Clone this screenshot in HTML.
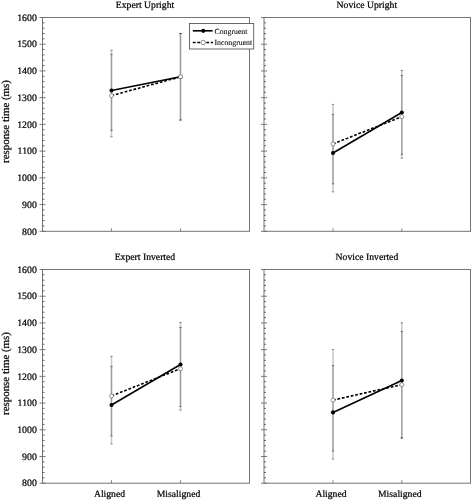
<!DOCTYPE html>
<html><head><meta charset="utf-8"><style>
html,body{margin:0;padding:0;background:#fff;}
svg{display:block;filter:grayscale(1);}
text{font-family:"Liberation Serif", serif;fill:#000;stroke:#000;stroke-width:0.22px;text-rendering:geometricPrecision;}
.tl{font-size:9.8px;}
.tt{font-size:9.7px;}
.yl{font-size:10.9px;}
.lg{font-size:7.8px;stroke-width:0.08px;}
</style></head><body>
<svg width="472" height="500" viewBox="0 0 472 500">
<rect width="472" height="500" fill="#fff"/>
<rect x="42.5" y="17.5" width="207" height="213.8" fill="none" stroke="#747474" stroke-width="1.0"/>
<line x1="39.5" y1="17.5" x2="45.5" y2="17.5" stroke="#6a6a6a" stroke-width="0.9"/>
<line x1="42.5" y1="22.84" x2="44.5" y2="22.84" stroke="#555" stroke-width="0.9"/>
<line x1="42.5" y1="28.19" x2="44.5" y2="28.19" stroke="#555" stroke-width="0.9"/>
<line x1="42.5" y1="33.54" x2="44.5" y2="33.54" stroke="#555" stroke-width="0.9"/>
<line x1="42.5" y1="38.88" x2="44.5" y2="38.88" stroke="#555" stroke-width="0.9"/>
<line x1="39.5" y1="44.23" x2="45.5" y2="44.23" stroke="#6a6a6a" stroke-width="0.9"/>
<line x1="42.5" y1="49.57" x2="44.5" y2="49.57" stroke="#555" stroke-width="0.9"/>
<line x1="42.5" y1="54.92" x2="44.5" y2="54.92" stroke="#555" stroke-width="0.9"/>
<line x1="42.5" y1="60.26" x2="44.5" y2="60.26" stroke="#555" stroke-width="0.9"/>
<line x1="42.5" y1="65.61" x2="44.5" y2="65.61" stroke="#555" stroke-width="0.9"/>
<line x1="39.5" y1="70.95" x2="45.5" y2="70.95" stroke="#6a6a6a" stroke-width="0.9"/>
<line x1="42.5" y1="76.3" x2="44.5" y2="76.3" stroke="#555" stroke-width="0.9"/>
<line x1="42.5" y1="81.64" x2="44.5" y2="81.64" stroke="#555" stroke-width="0.9"/>
<line x1="42.5" y1="86.99" x2="44.5" y2="86.99" stroke="#555" stroke-width="0.9"/>
<line x1="42.5" y1="92.33" x2="44.5" y2="92.33" stroke="#555" stroke-width="0.9"/>
<line x1="39.5" y1="97.68" x2="45.5" y2="97.68" stroke="#6a6a6a" stroke-width="0.9"/>
<line x1="42.5" y1="103.02" x2="44.5" y2="103.02" stroke="#555" stroke-width="0.9"/>
<line x1="42.5" y1="108.37" x2="44.5" y2="108.37" stroke="#555" stroke-width="0.9"/>
<line x1="42.5" y1="113.71" x2="44.5" y2="113.71" stroke="#555" stroke-width="0.9"/>
<line x1="42.5" y1="119.06" x2="44.5" y2="119.06" stroke="#555" stroke-width="0.9"/>
<line x1="39.5" y1="124.4" x2="45.5" y2="124.4" stroke="#6a6a6a" stroke-width="0.9"/>
<line x1="42.5" y1="129.75" x2="44.5" y2="129.75" stroke="#555" stroke-width="0.9"/>
<line x1="42.5" y1="135.09" x2="44.5" y2="135.09" stroke="#555" stroke-width="0.9"/>
<line x1="42.5" y1="140.44" x2="44.5" y2="140.44" stroke="#555" stroke-width="0.9"/>
<line x1="42.5" y1="145.78" x2="44.5" y2="145.78" stroke="#555" stroke-width="0.9"/>
<line x1="39.5" y1="151.13" x2="45.5" y2="151.13" stroke="#6a6a6a" stroke-width="0.9"/>
<line x1="42.5" y1="156.47" x2="44.5" y2="156.47" stroke="#555" stroke-width="0.9"/>
<line x1="42.5" y1="161.82" x2="44.5" y2="161.82" stroke="#555" stroke-width="0.9"/>
<line x1="42.5" y1="167.16" x2="44.5" y2="167.16" stroke="#555" stroke-width="0.9"/>
<line x1="42.5" y1="172.51" x2="44.5" y2="172.51" stroke="#555" stroke-width="0.9"/>
<line x1="39.5" y1="177.85" x2="45.5" y2="177.85" stroke="#6a6a6a" stroke-width="0.9"/>
<line x1="42.5" y1="183.2" x2="44.5" y2="183.2" stroke="#555" stroke-width="0.9"/>
<line x1="42.5" y1="188.54" x2="44.5" y2="188.54" stroke="#555" stroke-width="0.9"/>
<line x1="42.5" y1="193.89" x2="44.5" y2="193.89" stroke="#555" stroke-width="0.9"/>
<line x1="42.5" y1="199.23" x2="44.5" y2="199.23" stroke="#555" stroke-width="0.9"/>
<line x1="39.5" y1="204.58" x2="45.5" y2="204.58" stroke="#6a6a6a" stroke-width="0.9"/>
<line x1="42.5" y1="209.92" x2="44.5" y2="209.92" stroke="#555" stroke-width="0.9"/>
<line x1="42.5" y1="215.27" x2="44.5" y2="215.27" stroke="#555" stroke-width="0.9"/>
<line x1="42.5" y1="220.61" x2="44.5" y2="220.61" stroke="#555" stroke-width="0.9"/>
<line x1="42.5" y1="225.96" x2="44.5" y2="225.96" stroke="#555" stroke-width="0.9"/>
<line x1="39.5" y1="231.3" x2="45.5" y2="231.3" stroke="#6a6a6a" stroke-width="0.9"/>
<line x1="111.5" y1="231.3" x2="111.5" y2="228.3" stroke="#6a6a6a" stroke-width="0.8"/>
<line x1="180.5" y1="231.3" x2="180.5" y2="228.3" stroke="#6a6a6a" stroke-width="0.8"/>
<text x="17.2" y="20.75" class="tl">1600</text>
<text x="17.2" y="47.48" class="tl">1500</text>
<text x="17.2" y="74.2" class="tl">1400</text>
<text x="17.2" y="100.93" class="tl">1300</text>
<text x="17.2" y="127.65" class="tl">1200</text>
<text x="17.6" y="154.38" class="tl">1100</text>
<text x="17.2" y="181.1" class="tl">1000</text>
<text x="22.1" y="207.83" class="tl">900</text>
<text x="22.1" y="234.55" class="tl">800</text>
<text transform="translate(8.7 162.92) rotate(-90)" class="yl">response time (ms)</text>
<text x="115.8" y="7.8" class="tt">Expert Upright</text>
<line x1="111.5" y1="50.1" x2="111.5" y2="130.4" stroke="#000" stroke-opacity="0.22" stroke-width="1.5"/>
<line x1="110.3" y1="50.1" x2="112.7" y2="50.1" stroke="#000" stroke-opacity="0.42" stroke-width="1"/>
<line x1="110.3" y1="130.4" x2="112.7" y2="130.4" stroke="#000" stroke-opacity="0.42" stroke-width="1"/>
<line x1="111.5" y1="54.4" x2="111.5" y2="136.8" stroke="#000" stroke-opacity="0.22" stroke-width="1.5"/>
<line x1="110.3" y1="54.4" x2="112.7" y2="54.4" stroke="#000" stroke-opacity="0.42" stroke-width="1"/>
<line x1="110.3" y1="136.8" x2="112.7" y2="136.8" stroke="#000" stroke-opacity="0.42" stroke-width="1"/>
<line x1="180.5" y1="33.5" x2="180.5" y2="120.1" stroke="#000" stroke-opacity="0.22" stroke-width="1.5"/>
<line x1="179.3" y1="33.5" x2="181.7" y2="33.5" stroke="#000" stroke-opacity="0.42" stroke-width="1"/>
<line x1="179.3" y1="120.1" x2="181.7" y2="120.1" stroke="#000" stroke-opacity="0.42" stroke-width="1"/>
<line x1="180.5" y1="33.5" x2="180.5" y2="120.1" stroke="#000" stroke-opacity="0.22" stroke-width="1.5"/>
<line x1="179.3" y1="33.5" x2="181.7" y2="33.5" stroke="#000" stroke-opacity="0.42" stroke-width="1"/>
<line x1="179.3" y1="120.1" x2="181.7" y2="120.1" stroke="#000" stroke-opacity="0.42" stroke-width="1"/>
<line x1="111.5" y1="90.5" x2="180.5" y2="76.8" stroke="#000" stroke-width="1.6"/>
<line x1="111.5" y1="95.6" x2="180.5" y2="76.8" stroke="#000" stroke-width="1.6" stroke-dasharray="2.75 1.8"/>
<circle cx="111.5" cy="90.5" r="2.05" fill="#000"/>
<circle cx="111.5" cy="95.6" r="2.0" fill="#fff" stroke="#606060" stroke-width="0.65"/>
<circle cx="180.5" cy="76.8" r="2.05" fill="#000"/>
<circle cx="180.5" cy="76.8" r="2.0" fill="#fff" stroke="#606060" stroke-width="0.65"/>
<rect x="264" y="17.5" width="206.5" height="213.8" fill="none" stroke="#747474" stroke-width="1.0"/>
<line x1="261" y1="17.5" x2="267" y2="17.5" stroke="#6a6a6a" stroke-width="0.9"/>
<line x1="264" y1="22.84" x2="266" y2="22.84" stroke="#555" stroke-width="0.9"/>
<line x1="264" y1="28.19" x2="266" y2="28.19" stroke="#555" stroke-width="0.9"/>
<line x1="264" y1="33.54" x2="266" y2="33.54" stroke="#555" stroke-width="0.9"/>
<line x1="264" y1="38.88" x2="266" y2="38.88" stroke="#555" stroke-width="0.9"/>
<line x1="261" y1="44.23" x2="267" y2="44.23" stroke="#6a6a6a" stroke-width="0.9"/>
<line x1="264" y1="49.57" x2="266" y2="49.57" stroke="#555" stroke-width="0.9"/>
<line x1="264" y1="54.92" x2="266" y2="54.92" stroke="#555" stroke-width="0.9"/>
<line x1="264" y1="60.26" x2="266" y2="60.26" stroke="#555" stroke-width="0.9"/>
<line x1="264" y1="65.61" x2="266" y2="65.61" stroke="#555" stroke-width="0.9"/>
<line x1="261" y1="70.95" x2="267" y2="70.95" stroke="#6a6a6a" stroke-width="0.9"/>
<line x1="264" y1="76.3" x2="266" y2="76.3" stroke="#555" stroke-width="0.9"/>
<line x1="264" y1="81.64" x2="266" y2="81.64" stroke="#555" stroke-width="0.9"/>
<line x1="264" y1="86.99" x2="266" y2="86.99" stroke="#555" stroke-width="0.9"/>
<line x1="264" y1="92.33" x2="266" y2="92.33" stroke="#555" stroke-width="0.9"/>
<line x1="261" y1="97.68" x2="267" y2="97.68" stroke="#6a6a6a" stroke-width="0.9"/>
<line x1="264" y1="103.02" x2="266" y2="103.02" stroke="#555" stroke-width="0.9"/>
<line x1="264" y1="108.37" x2="266" y2="108.37" stroke="#555" stroke-width="0.9"/>
<line x1="264" y1="113.71" x2="266" y2="113.71" stroke="#555" stroke-width="0.9"/>
<line x1="264" y1="119.06" x2="266" y2="119.06" stroke="#555" stroke-width="0.9"/>
<line x1="261" y1="124.4" x2="267" y2="124.4" stroke="#6a6a6a" stroke-width="0.9"/>
<line x1="264" y1="129.75" x2="266" y2="129.75" stroke="#555" stroke-width="0.9"/>
<line x1="264" y1="135.09" x2="266" y2="135.09" stroke="#555" stroke-width="0.9"/>
<line x1="264" y1="140.44" x2="266" y2="140.44" stroke="#555" stroke-width="0.9"/>
<line x1="264" y1="145.78" x2="266" y2="145.78" stroke="#555" stroke-width="0.9"/>
<line x1="261" y1="151.13" x2="267" y2="151.13" stroke="#6a6a6a" stroke-width="0.9"/>
<line x1="264" y1="156.47" x2="266" y2="156.47" stroke="#555" stroke-width="0.9"/>
<line x1="264" y1="161.82" x2="266" y2="161.82" stroke="#555" stroke-width="0.9"/>
<line x1="264" y1="167.16" x2="266" y2="167.16" stroke="#555" stroke-width="0.9"/>
<line x1="264" y1="172.51" x2="266" y2="172.51" stroke="#555" stroke-width="0.9"/>
<line x1="261" y1="177.85" x2="267" y2="177.85" stroke="#6a6a6a" stroke-width="0.9"/>
<line x1="264" y1="183.2" x2="266" y2="183.2" stroke="#555" stroke-width="0.9"/>
<line x1="264" y1="188.54" x2="266" y2="188.54" stroke="#555" stroke-width="0.9"/>
<line x1="264" y1="193.89" x2="266" y2="193.89" stroke="#555" stroke-width="0.9"/>
<line x1="264" y1="199.23" x2="266" y2="199.23" stroke="#555" stroke-width="0.9"/>
<line x1="261" y1="204.58" x2="267" y2="204.58" stroke="#6a6a6a" stroke-width="0.9"/>
<line x1="264" y1="209.92" x2="266" y2="209.92" stroke="#555" stroke-width="0.9"/>
<line x1="264" y1="215.27" x2="266" y2="215.27" stroke="#555" stroke-width="0.9"/>
<line x1="264" y1="220.61" x2="266" y2="220.61" stroke="#555" stroke-width="0.9"/>
<line x1="264" y1="225.96" x2="266" y2="225.96" stroke="#555" stroke-width="0.9"/>
<line x1="261" y1="231.3" x2="267" y2="231.3" stroke="#6a6a6a" stroke-width="0.9"/>
<line x1="333" y1="231.3" x2="333" y2="228.3" stroke="#6a6a6a" stroke-width="0.8"/>
<line x1="401.8" y1="231.3" x2="401.8" y2="228.3" stroke="#6a6a6a" stroke-width="0.8"/>
<text x="336.6" y="7.8" class="tt">Novice Upright</text>
<line x1="333" y1="114.4" x2="333" y2="191.9" stroke="#000" stroke-opacity="0.22" stroke-width="1.5"/>
<line x1="331.8" y1="114.4" x2="334.2" y2="114.4" stroke="#000" stroke-opacity="0.42" stroke-width="1"/>
<line x1="331.8" y1="191.9" x2="334.2" y2="191.9" stroke="#000" stroke-opacity="0.42" stroke-width="1"/>
<line x1="333" y1="104.4" x2="333" y2="183.9" stroke="#000" stroke-opacity="0.22" stroke-width="1.5"/>
<line x1="331.8" y1="104.4" x2="334.2" y2="104.4" stroke="#000" stroke-opacity="0.42" stroke-width="1"/>
<line x1="331.8" y1="183.9" x2="334.2" y2="183.9" stroke="#000" stroke-opacity="0.42" stroke-width="1"/>
<line x1="401.8" y1="70.5" x2="401.8" y2="154.6" stroke="#000" stroke-opacity="0.22" stroke-width="1.5"/>
<line x1="400.6" y1="70.5" x2="403" y2="70.5" stroke="#000" stroke-opacity="0.42" stroke-width="1"/>
<line x1="400.6" y1="154.6" x2="403" y2="154.6" stroke="#000" stroke-opacity="0.42" stroke-width="1"/>
<line x1="401.8" y1="75.5" x2="401.8" y2="158.2" stroke="#000" stroke-opacity="0.22" stroke-width="1.5"/>
<line x1="400.6" y1="75.5" x2="403" y2="75.5" stroke="#000" stroke-opacity="0.42" stroke-width="1"/>
<line x1="400.6" y1="158.2" x2="403" y2="158.2" stroke="#000" stroke-opacity="0.42" stroke-width="1"/>
<line x1="333" y1="153" x2="401.8" y2="112.5" stroke="#000" stroke-width="1.6"/>
<line x1="333" y1="143.9" x2="401.8" y2="116.7" stroke="#000" stroke-width="1.6" stroke-dasharray="2.75 1.8"/>
<circle cx="333" cy="153" r="2.05" fill="#000"/>
<circle cx="333" cy="143.9" r="2.0" fill="#fff" stroke="#606060" stroke-width="0.65"/>
<circle cx="401.8" cy="112.5" r="2.05" fill="#000"/>
<circle cx="401.8" cy="116.7" r="2.0" fill="#fff" stroke="#606060" stroke-width="0.65"/>
<rect x="42.5" y="269.5" width="207" height="213.7" fill="none" stroke="#747474" stroke-width="1.0"/>
<line x1="39.5" y1="269.5" x2="45.5" y2="269.5" stroke="#6a6a6a" stroke-width="0.9"/>
<line x1="42.5" y1="274.84" x2="44.5" y2="274.84" stroke="#555" stroke-width="0.9"/>
<line x1="42.5" y1="280.19" x2="44.5" y2="280.19" stroke="#555" stroke-width="0.9"/>
<line x1="42.5" y1="285.53" x2="44.5" y2="285.53" stroke="#555" stroke-width="0.9"/>
<line x1="42.5" y1="290.87" x2="44.5" y2="290.87" stroke="#555" stroke-width="0.9"/>
<line x1="39.5" y1="296.21" x2="45.5" y2="296.21" stroke="#6a6a6a" stroke-width="0.9"/>
<line x1="42.5" y1="301.56" x2="44.5" y2="301.56" stroke="#555" stroke-width="0.9"/>
<line x1="42.5" y1="306.9" x2="44.5" y2="306.9" stroke="#555" stroke-width="0.9"/>
<line x1="42.5" y1="312.24" x2="44.5" y2="312.24" stroke="#555" stroke-width="0.9"/>
<line x1="42.5" y1="317.58" x2="44.5" y2="317.58" stroke="#555" stroke-width="0.9"/>
<line x1="39.5" y1="322.93" x2="45.5" y2="322.93" stroke="#6a6a6a" stroke-width="0.9"/>
<line x1="42.5" y1="328.27" x2="44.5" y2="328.27" stroke="#555" stroke-width="0.9"/>
<line x1="42.5" y1="333.61" x2="44.5" y2="333.61" stroke="#555" stroke-width="0.9"/>
<line x1="42.5" y1="338.95" x2="44.5" y2="338.95" stroke="#555" stroke-width="0.9"/>
<line x1="42.5" y1="344.29" x2="44.5" y2="344.29" stroke="#555" stroke-width="0.9"/>
<line x1="39.5" y1="349.64" x2="45.5" y2="349.64" stroke="#6a6a6a" stroke-width="0.9"/>
<line x1="42.5" y1="354.98" x2="44.5" y2="354.98" stroke="#555" stroke-width="0.9"/>
<line x1="42.5" y1="360.32" x2="44.5" y2="360.32" stroke="#555" stroke-width="0.9"/>
<line x1="42.5" y1="365.66" x2="44.5" y2="365.66" stroke="#555" stroke-width="0.9"/>
<line x1="42.5" y1="371.01" x2="44.5" y2="371.01" stroke="#555" stroke-width="0.9"/>
<line x1="39.5" y1="376.35" x2="45.5" y2="376.35" stroke="#6a6a6a" stroke-width="0.9"/>
<line x1="42.5" y1="381.69" x2="44.5" y2="381.69" stroke="#555" stroke-width="0.9"/>
<line x1="42.5" y1="387.03" x2="44.5" y2="387.03" stroke="#555" stroke-width="0.9"/>
<line x1="42.5" y1="392.38" x2="44.5" y2="392.38" stroke="#555" stroke-width="0.9"/>
<line x1="42.5" y1="397.72" x2="44.5" y2="397.72" stroke="#555" stroke-width="0.9"/>
<line x1="39.5" y1="403.06" x2="45.5" y2="403.06" stroke="#6a6a6a" stroke-width="0.9"/>
<line x1="42.5" y1="408.4" x2="44.5" y2="408.4" stroke="#555" stroke-width="0.9"/>
<line x1="42.5" y1="413.75" x2="44.5" y2="413.75" stroke="#555" stroke-width="0.9"/>
<line x1="42.5" y1="419.09" x2="44.5" y2="419.09" stroke="#555" stroke-width="0.9"/>
<line x1="42.5" y1="424.43" x2="44.5" y2="424.43" stroke="#555" stroke-width="0.9"/>
<line x1="39.5" y1="429.77" x2="45.5" y2="429.77" stroke="#6a6a6a" stroke-width="0.9"/>
<line x1="42.5" y1="435.12" x2="44.5" y2="435.12" stroke="#555" stroke-width="0.9"/>
<line x1="42.5" y1="440.46" x2="44.5" y2="440.46" stroke="#555" stroke-width="0.9"/>
<line x1="42.5" y1="445.8" x2="44.5" y2="445.8" stroke="#555" stroke-width="0.9"/>
<line x1="42.5" y1="451.14" x2="44.5" y2="451.14" stroke="#555" stroke-width="0.9"/>
<line x1="39.5" y1="456.49" x2="45.5" y2="456.49" stroke="#6a6a6a" stroke-width="0.9"/>
<line x1="42.5" y1="461.83" x2="44.5" y2="461.83" stroke="#555" stroke-width="0.9"/>
<line x1="42.5" y1="467.17" x2="44.5" y2="467.17" stroke="#555" stroke-width="0.9"/>
<line x1="42.5" y1="472.51" x2="44.5" y2="472.51" stroke="#555" stroke-width="0.9"/>
<line x1="42.5" y1="477.86" x2="44.5" y2="477.86" stroke="#555" stroke-width="0.9"/>
<line x1="39.5" y1="483.2" x2="45.5" y2="483.2" stroke="#6a6a6a" stroke-width="0.9"/>
<line x1="111.5" y1="483.2" x2="111.5" y2="480.2" stroke="#6a6a6a" stroke-width="0.8"/>
<line x1="180.5" y1="483.2" x2="180.5" y2="480.2" stroke="#6a6a6a" stroke-width="0.8"/>
<text x="17.2" y="272.75" class="tl">1600</text>
<text x="17.2" y="299.46" class="tl">1500</text>
<text x="17.2" y="326.18" class="tl">1400</text>
<text x="17.2" y="352.89" class="tl">1300</text>
<text x="17.2" y="379.6" class="tl">1200</text>
<text x="17.6" y="406.31" class="tl">1100</text>
<text x="17.2" y="433.02" class="tl">1000</text>
<text x="22.1" y="459.74" class="tl">900</text>
<text x="22.1" y="486.45" class="tl">800</text>
<text transform="translate(8.7 414.92) rotate(-90)" class="yl">response time (ms)</text>
<text x="93.9" y="496.8" class="tt">Aligned</text>
<text x="156.7" y="496.8" class="tt">Misaligned</text>
<text x="114.7" y="259.9" class="tt">Expert Inverted</text>
<line x1="111.5" y1="366.4" x2="111.5" y2="443.9" stroke="#000" stroke-opacity="0.22" stroke-width="1.5"/>
<line x1="110.3" y1="366.4" x2="112.7" y2="366.4" stroke="#000" stroke-opacity="0.42" stroke-width="1"/>
<line x1="110.3" y1="443.9" x2="112.7" y2="443.9" stroke="#000" stroke-opacity="0.42" stroke-width="1"/>
<line x1="111.5" y1="356.4" x2="111.5" y2="435.9" stroke="#000" stroke-opacity="0.22" stroke-width="1.5"/>
<line x1="110.3" y1="356.4" x2="112.7" y2="356.4" stroke="#000" stroke-opacity="0.42" stroke-width="1"/>
<line x1="110.3" y1="435.9" x2="112.7" y2="435.9" stroke="#000" stroke-opacity="0.42" stroke-width="1"/>
<line x1="180.5" y1="322.5" x2="180.5" y2="406.6" stroke="#000" stroke-opacity="0.22" stroke-width="1.5"/>
<line x1="179.3" y1="322.5" x2="181.7" y2="322.5" stroke="#000" stroke-opacity="0.42" stroke-width="1"/>
<line x1="179.3" y1="406.6" x2="181.7" y2="406.6" stroke="#000" stroke-opacity="0.42" stroke-width="1"/>
<line x1="180.5" y1="327.5" x2="180.5" y2="410.2" stroke="#000" stroke-opacity="0.22" stroke-width="1.5"/>
<line x1="179.3" y1="327.5" x2="181.7" y2="327.5" stroke="#000" stroke-opacity="0.42" stroke-width="1"/>
<line x1="179.3" y1="410.2" x2="181.7" y2="410.2" stroke="#000" stroke-opacity="0.42" stroke-width="1"/>
<line x1="111.5" y1="405" x2="180.5" y2="364.5" stroke="#000" stroke-width="1.6"/>
<line x1="111.5" y1="395.9" x2="180.5" y2="368.7" stroke="#000" stroke-width="1.6" stroke-dasharray="2.75 1.8"/>
<circle cx="111.5" cy="405" r="2.05" fill="#000"/>
<circle cx="111.5" cy="395.9" r="2.0" fill="#fff" stroke="#606060" stroke-width="0.65"/>
<circle cx="180.5" cy="364.5" r="2.05" fill="#000"/>
<circle cx="180.5" cy="368.7" r="2.0" fill="#fff" stroke="#606060" stroke-width="0.65"/>
<rect x="264" y="269.5" width="206.5" height="213.7" fill="none" stroke="#747474" stroke-width="1.0"/>
<line x1="261" y1="269.5" x2="267" y2="269.5" stroke="#6a6a6a" stroke-width="0.9"/>
<line x1="264" y1="274.84" x2="266" y2="274.84" stroke="#555" stroke-width="0.9"/>
<line x1="264" y1="280.19" x2="266" y2="280.19" stroke="#555" stroke-width="0.9"/>
<line x1="264" y1="285.53" x2="266" y2="285.53" stroke="#555" stroke-width="0.9"/>
<line x1="264" y1="290.87" x2="266" y2="290.87" stroke="#555" stroke-width="0.9"/>
<line x1="261" y1="296.21" x2="267" y2="296.21" stroke="#6a6a6a" stroke-width="0.9"/>
<line x1="264" y1="301.56" x2="266" y2="301.56" stroke="#555" stroke-width="0.9"/>
<line x1="264" y1="306.9" x2="266" y2="306.9" stroke="#555" stroke-width="0.9"/>
<line x1="264" y1="312.24" x2="266" y2="312.24" stroke="#555" stroke-width="0.9"/>
<line x1="264" y1="317.58" x2="266" y2="317.58" stroke="#555" stroke-width="0.9"/>
<line x1="261" y1="322.93" x2="267" y2="322.93" stroke="#6a6a6a" stroke-width="0.9"/>
<line x1="264" y1="328.27" x2="266" y2="328.27" stroke="#555" stroke-width="0.9"/>
<line x1="264" y1="333.61" x2="266" y2="333.61" stroke="#555" stroke-width="0.9"/>
<line x1="264" y1="338.95" x2="266" y2="338.95" stroke="#555" stroke-width="0.9"/>
<line x1="264" y1="344.29" x2="266" y2="344.29" stroke="#555" stroke-width="0.9"/>
<line x1="261" y1="349.64" x2="267" y2="349.64" stroke="#6a6a6a" stroke-width="0.9"/>
<line x1="264" y1="354.98" x2="266" y2="354.98" stroke="#555" stroke-width="0.9"/>
<line x1="264" y1="360.32" x2="266" y2="360.32" stroke="#555" stroke-width="0.9"/>
<line x1="264" y1="365.66" x2="266" y2="365.66" stroke="#555" stroke-width="0.9"/>
<line x1="264" y1="371.01" x2="266" y2="371.01" stroke="#555" stroke-width="0.9"/>
<line x1="261" y1="376.35" x2="267" y2="376.35" stroke="#6a6a6a" stroke-width="0.9"/>
<line x1="264" y1="381.69" x2="266" y2="381.69" stroke="#555" stroke-width="0.9"/>
<line x1="264" y1="387.03" x2="266" y2="387.03" stroke="#555" stroke-width="0.9"/>
<line x1="264" y1="392.38" x2="266" y2="392.38" stroke="#555" stroke-width="0.9"/>
<line x1="264" y1="397.72" x2="266" y2="397.72" stroke="#555" stroke-width="0.9"/>
<line x1="261" y1="403.06" x2="267" y2="403.06" stroke="#6a6a6a" stroke-width="0.9"/>
<line x1="264" y1="408.4" x2="266" y2="408.4" stroke="#555" stroke-width="0.9"/>
<line x1="264" y1="413.75" x2="266" y2="413.75" stroke="#555" stroke-width="0.9"/>
<line x1="264" y1="419.09" x2="266" y2="419.09" stroke="#555" stroke-width="0.9"/>
<line x1="264" y1="424.43" x2="266" y2="424.43" stroke="#555" stroke-width="0.9"/>
<line x1="261" y1="429.77" x2="267" y2="429.77" stroke="#6a6a6a" stroke-width="0.9"/>
<line x1="264" y1="435.12" x2="266" y2="435.12" stroke="#555" stroke-width="0.9"/>
<line x1="264" y1="440.46" x2="266" y2="440.46" stroke="#555" stroke-width="0.9"/>
<line x1="264" y1="445.8" x2="266" y2="445.8" stroke="#555" stroke-width="0.9"/>
<line x1="264" y1="451.14" x2="266" y2="451.14" stroke="#555" stroke-width="0.9"/>
<line x1="261" y1="456.49" x2="267" y2="456.49" stroke="#6a6a6a" stroke-width="0.9"/>
<line x1="264" y1="461.83" x2="266" y2="461.83" stroke="#555" stroke-width="0.9"/>
<line x1="264" y1="467.17" x2="266" y2="467.17" stroke="#555" stroke-width="0.9"/>
<line x1="264" y1="472.51" x2="266" y2="472.51" stroke="#555" stroke-width="0.9"/>
<line x1="264" y1="477.86" x2="266" y2="477.86" stroke="#555" stroke-width="0.9"/>
<line x1="261" y1="483.2" x2="267" y2="483.2" stroke="#6a6a6a" stroke-width="0.9"/>
<line x1="333" y1="483.2" x2="333" y2="480.2" stroke="#6a6a6a" stroke-width="0.8"/>
<line x1="401.8" y1="483.2" x2="401.8" y2="480.2" stroke="#6a6a6a" stroke-width="0.8"/>
<text x="315.4" y="496.8" class="tt">Aligned</text>
<text x="378.0" y="496.8" class="tt">Misaligned</text>
<text x="335.6" y="259.9" class="tt">Novice Inverted</text>
<line x1="333" y1="365.6" x2="333" y2="459.1" stroke="#000" stroke-opacity="0.22" stroke-width="1.5"/>
<line x1="331.8" y1="365.6" x2="334.2" y2="365.6" stroke="#000" stroke-opacity="0.42" stroke-width="1"/>
<line x1="331.8" y1="459.1" x2="334.2" y2="459.1" stroke="#000" stroke-opacity="0.42" stroke-width="1"/>
<line x1="333" y1="349.5" x2="333" y2="451" stroke="#000" stroke-opacity="0.22" stroke-width="1.5"/>
<line x1="331.8" y1="349.5" x2="334.2" y2="349.5" stroke="#000" stroke-opacity="0.42" stroke-width="1"/>
<line x1="331.8" y1="451" x2="334.2" y2="451" stroke="#000" stroke-opacity="0.42" stroke-width="1"/>
<line x1="401.8" y1="322.8" x2="401.8" y2="438.2" stroke="#000" stroke-opacity="0.22" stroke-width="1.5"/>
<line x1="400.6" y1="322.8" x2="403" y2="322.8" stroke="#000" stroke-opacity="0.42" stroke-width="1"/>
<line x1="400.6" y1="438.2" x2="403" y2="438.2" stroke="#000" stroke-opacity="0.42" stroke-width="1"/>
<line x1="401.8" y1="331.5" x2="401.8" y2="437.9" stroke="#000" stroke-opacity="0.22" stroke-width="1.5"/>
<line x1="400.6" y1="331.5" x2="403" y2="331.5" stroke="#000" stroke-opacity="0.42" stroke-width="1"/>
<line x1="400.6" y1="437.9" x2="403" y2="437.9" stroke="#000" stroke-opacity="0.42" stroke-width="1"/>
<line x1="333" y1="412.4" x2="401.8" y2="380.5" stroke="#000" stroke-width="1.6"/>
<line x1="333" y1="400.1" x2="401.8" y2="384.7" stroke="#000" stroke-width="1.6" stroke-dasharray="2.75 1.8"/>
<circle cx="333" cy="412.4" r="2.05" fill="#000"/>
<circle cx="333" cy="400.1" r="2.0" fill="#fff" stroke="#606060" stroke-width="0.65"/>
<circle cx="401.8" cy="380.5" r="2.05" fill="#000"/>
<circle cx="401.8" cy="384.7" r="2.0" fill="#fff" stroke="#606060" stroke-width="0.65"/>
<rect x="189.5" y="23.5" width="64.2" height="25.5" fill="#fff" stroke="#5a5a5a" stroke-width="0.9"/>
<line x1="192.8" y1="30.8" x2="212.6" y2="30.8" stroke="#000" stroke-width="1.6"/>
<circle cx="203.3" cy="30.8" r="2.1" fill="#000"/>
<line x1="192.8" y1="42.5" x2="213" y2="42.5" stroke="#000" stroke-width="1.7" stroke-dasharray="2.8 1.7"/>
<circle cx="203.2" cy="42.5" r="2.2" fill="#fff" stroke="#555" stroke-width="0.7"/>
<text x="214.5" y="33.6" class="lg">Congruent</text>
<text x="214.5" y="45.4" class="lg">Incongruent</text>
</svg>
</body></html>
